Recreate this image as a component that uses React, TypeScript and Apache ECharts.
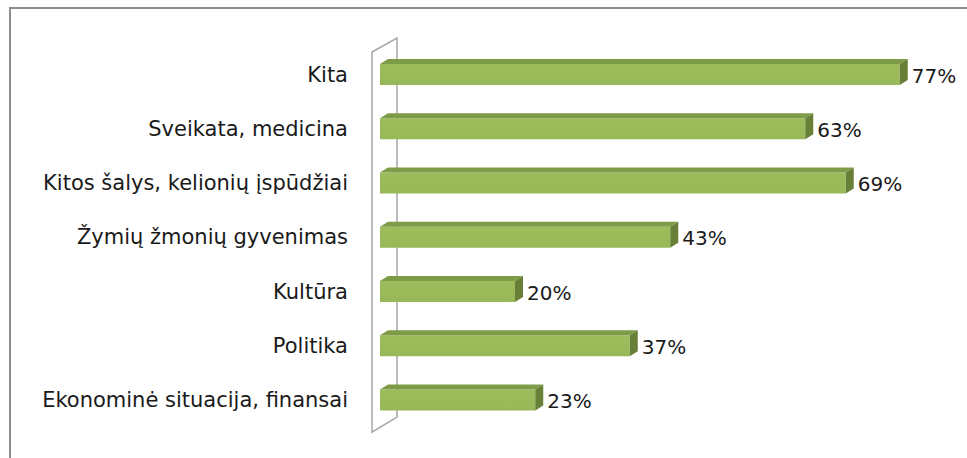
import React, { useEffect, useRef } from "react";
import * as echarts from "echarts";

const categories = [
  "Kita",
  "Sveikata, medicina",
  "Kitos šalys, kelionių įspūdžiai",
  "Žymių žmonių gyvenimas",
  "Kultūra",
  "Politika",
  "Ekonominė situacija, finansai",
];
const values = [77, 63, 69, 43, 20, 37, 23];

const W = 967;
const H = 458;
const GRID_LEFT = 380;
const GRID_TOP = 47.4;
const GRID_BOTTOM = 30.8;
const X_MAX = 80;
const GRID_RIGHT = W - GRID_LEFT - X_MAX * 6.75;
const DX = 8;
const DY = 5;
const BAR_H = 21;
const FONT = "'DejaVu Sans', sans-serif";

export default function App() {
  const ref = useRef<HTMLDivElement>(null);
  useEffect(() => {
    if (!ref.current) return;
    const chart = echarts.init(ref.current, null, { renderer: "svg" });
    const gridBottomY = H - GRID_BOTTOM;
    const wallColor = "#a6a6a6";
    chart.setOption({
      animation: false,
      backgroundColor: "#ffffff",
      grid: { left: GRID_LEFT, right: GRID_RIGHT, top: GRID_TOP, bottom: GRID_BOTTOM, containLabel: false },
      xAxis: {
        type: "value",
        min: 0,
        max: X_MAX,
        show: false,
      },
      yAxis: {
        type: "category",
        data: categories,
        inverse: true,
        axisLine: { show: false },
        axisTick: { show: false },
        axisLabel: {
          margin: 32,
          fontFamily: FONT,
          fontSize: 21,
          color: "#1a1a1a",
          padding: [8, 0, 0, 0],
        },
      },
      graphic: [
        // outer frame
        { type: "line", z: 0, shape: { x1: 9, y1: 8, x2: W, y2: 8 }, style: { stroke: "#8c8c8c", lineWidth: 2 } },
        { type: "line", z: 0, shape: { x1: 10, y1: 7, x2: 10, y2: H }, style: { stroke: "#8c8c8c", lineWidth: 2 } },
        // 3D wall
        {
          type: "polyline",
          z: 0,
          shape: {
            points: [
              [GRID_LEFT + 17, gridBottomY - 10],
              [GRID_LEFT + 17, GRID_TOP - 9.4],
              [GRID_LEFT - 8, GRID_TOP + 4.6],
              [GRID_LEFT - 8, gridBottomY + 5],
              [GRID_LEFT + 17, gridBottomY - 10],
            ],
          },
          style: { stroke: wallColor, lineWidth: 1.5, fill: null },
        },
      ],
      series: [
        {
          type: "custom",
          data: values.map((v, i) => [v, i]),
          encode: { x: 0, y: 1 },
          renderItem: (params: any, api: any) => {
            const v = api.value(0);
            const idx = api.value(1);
            const end = api.coord([v, idx]);
            const start = api.coord([0, idx]);
            const x0 = start[0];
            const x1 = end[0];
            const yTop = end[1] - BAR_H / 2;
            const yBot = end[1] + BAR_H / 2;
            return {
              type: "group",
              children: [
                {
                  type: "rect",
                  shape: { x: x0, y: yTop, width: x1 - x0, height: BAR_H },
                  style: {
                    fill: new echarts.graphic.LinearGradient(0, 0, 0, 1, [
                      { offset: 0, color: "#9dbc5c" },
                      { offset: 1, color: "#98b857" },
                    ]),
                  },
                },
                {
                  type: "polygon",
                  shape: {
                    points: [
                      [x0, yTop],
                      [x0 + DX, yTop - DY],
                      [x1 + DX, yTop - DY],
                      [x1, yTop],
                    ],
                  },
                  style: { fill: "#7e9b47" },
                },
                {
                  type: "polygon",
                  shape: {
                    points: [
                      [x1, yTop],
                      [x1 + DX, yTop - DY],
                      [x1 + DX, yBot - DY],
                      [x1, yBot],
                    ],
                  },
                  style: { fill: "#687f38" },
                },
                {
                  type: "text",
                  style: {
                    x: x1 + DX + 4,
                    y: end[1] + 1,
                    text: v + "%",
                    fill: "#1a1a1a",
                    font: "20px " + FONT,
                    textAlign: "left",
                    textVerticalAlign: "middle",
                  },
                },
              ],
            };
          },
        },
      ],
    });
    return () => chart.dispose();
  }, []);
  return (
    <div
      ref={ref}
      style={{ position: "fixed", left: 0, top: 0, width: W, height: H }}
    />
  );
}
